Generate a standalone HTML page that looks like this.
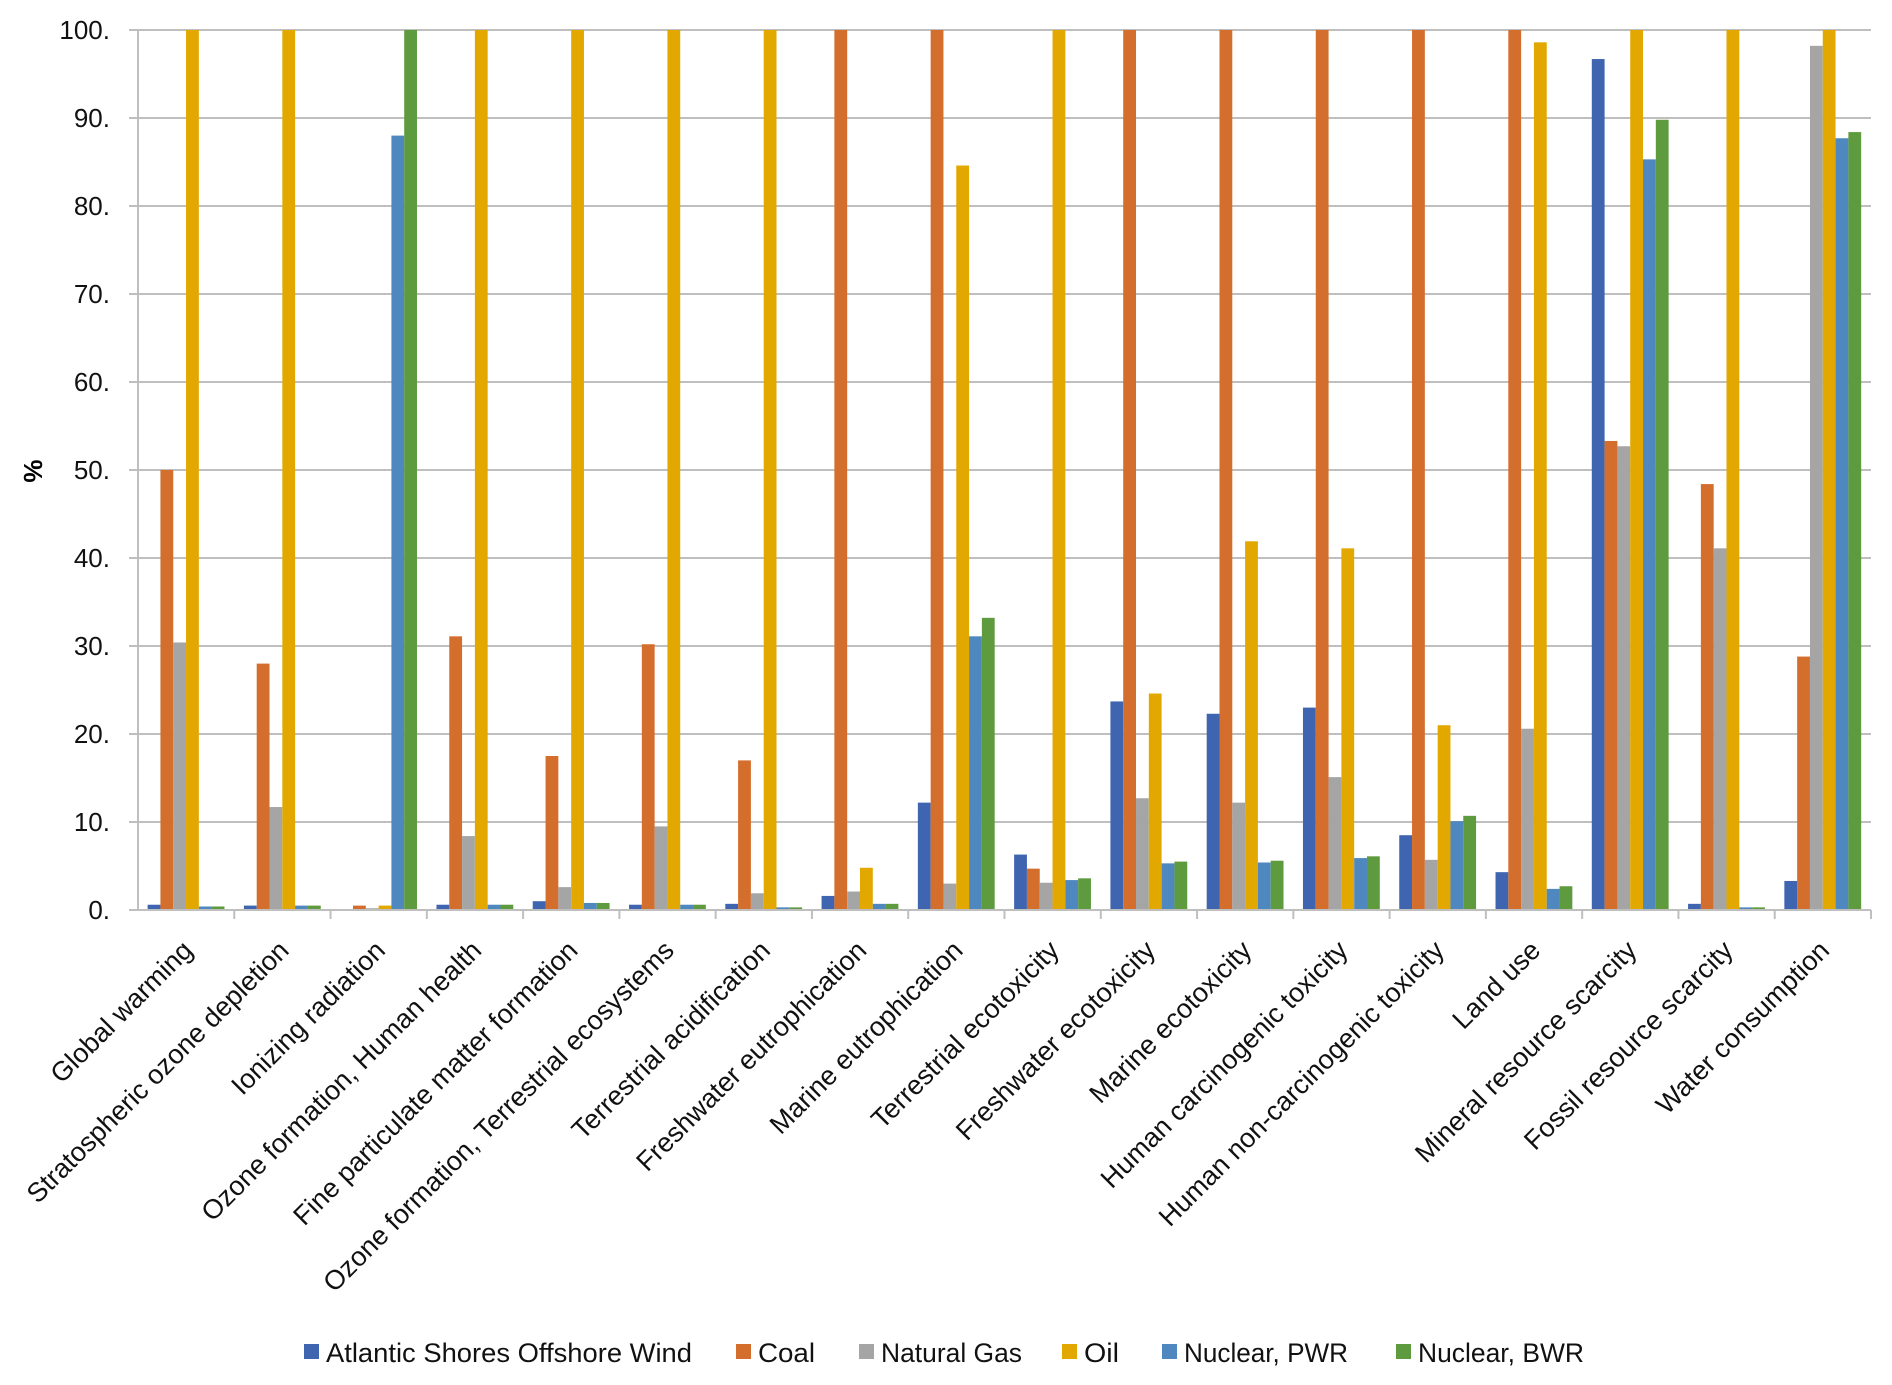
<!DOCTYPE html>
<html><head><meta charset="utf-8"><style>
html,body{margin:0;padding:0;background:#fff;}
svg{display:block;font-family:"Liberation Sans",sans-serif;}
</style></head><body>
<svg id="chart" width="1892" height="1385" viewBox="0 0 1892 1385">
<g id="grid"></g>
<g id="bars"></g>
<g id="axes"></g>
<text x="33" y="471" transform="rotate(-90 33 471)" text-anchor="middle" dominant-baseline="central" font-size="26" font-weight="bold" fill="#000">%</text>
<g id="legend"></g>
</svg>
<script>
const categories = ["Global warming","Stratospheric ozone depletion","Ionizing radiation","Ozone formation, Human health","Fine particulate matter formation","Ozone formation, Terrestrial ecosystems","Terrestrial acidification","Freshwater eutrophication","Marine eutrophication","Terrestrial ecotoxicity","Freshwater ecotoxicity","Marine ecotoxicity","Human carcinogenic toxicity","Human non-carcinogenic toxicity","Land use","Mineral resource scarcity","Fossil resource scarcity","Water consumption"];
const seriesNames = ["Atlantic Shores Offshore Wind","Coal","Natural Gas","Oil","Nuclear, PWR","Nuclear, BWR"];
const wind = [0.6,0.5,0.1,0.6,1.0,0.6,0.7,1.6,12.2,6.3,23.7,22.3,23.0,8.5,4.3,96.7,0.7,3.3];
const coal = [50,28,0.5,31.1,17.5,30.2,17,100,100,4.7,100,100,100,100,100,53.3,48.4,28.8];
const gas = [30.4,11.7,0.2,8.4,2.6,9.5,1.9,2.1,3.0,3.1,12.7,12.2,15.1,5.7,20.6,52.7,41.1,98.2];
const oil = [100,100,0.5,100,100,100,100,4.8,84.6,100,24.6,41.9,41.1,21.0,98.6,100,100,100];
const pwr = [0.4,0.5,88,0.6,0.8,0.6,0.3,0.7,31.1,3.4,5.3,5.4,5.9,10.1,2.4,85.3,0.3,87.7];
const bwr = [0.4,0.5,100,0.6,0.8,0.6,0.3,0.7,33.2,3.6,5.5,5.6,6.1,10.7,2.7,89.8,0.3,88.4];
const yTicks = [0,10,20,30,40,50,60,70,80,90,100];
const yTickLabels = ["0.","10.","20.","30.","40.","50.","60.","70.","80.","90.","100."];

const colors = ["#3f65b1","#d46e2d","#a5a5a5","#e3a800","#4f88bf","#5e9a3e"];
const series = [wind,coal,gas,oil,pwr,bwr];
const NS="http://www.w3.org/2000/svg";
const L=138, R=1871, T=30, B=910;
const catW=(R-L)/categories.length;
const yS=v=>B-(v/100)*(B-T);
const xC=i=>L+catW*(i+0.5);
function mk(tag,attrs,parent){const e=document.createElementNS(NS,tag);for(const k in attrs)e.setAttribute(k,attrs[k]);parent.appendChild(e);return e;}
const grid=document.getElementById('grid'),bars=document.getElementById('bars'),axes=document.getElementById('axes'),legend=document.getElementById('legend');
yTicks.forEach((t,i)=>{
  const ln=mk('line',{x1:L-9,x2:R,y1:yS(t),y2:yS(t),stroke:'#bfbfbf','stroke-width':2},grid);
  
  
  const tx=mk('text',{x:110,y:yS(t)+9,'text-anchor':'end','font-size':26,fill:'#111'},axes);
  tx.textContent=yTickLabels[i];
  
  
});
mk('line',{x1:L,x2:L,y1:T,y2:B,stroke:'#bfbfbf','stroke-width':2},axes);
const bw=catW*0.133, groupStart=catW*0.1;
categories.forEach((c,i)=>{
  series.forEach((s,j)=>{
    const x=L+catW*i+groupStart+j*bw;
    const r=mk('rect',{x:x,y:yS(s[i]),width:bw,height:B-yS(s[i]),fill:colors[j]},bars);
    
    
  });
  mk('line',{x1:L+catW*(i+1),x2:L+catW*(i+1),y1:B,y2:B+9,stroke:'#bfbfbf','stroke-width':2},axes);
  const cx=xC(i)+8, cy=B+42;
  const lb=mk('text',{x:cx,y:cy,'text-anchor':'end','font-size':27,fill:'#111',transform:`rotate(-45 ${cx} ${cy})`},axes);
  lb.textContent=c;
  
  
});
mk('line',{x1:L,x2:R,y1:B,y2:B,stroke:'#bfbfbf','stroke-width':2},axes);
const legX=[304,736,859,1062,1162,1396];
const legW=[366,57,141,35,164,166];
seriesNames.forEach((n,j)=>{
  const g=mk('g',{},legend);
  
  
  mk('rect',{x:legX[j],y:1344,width:15,height:15,fill:colors[j]},g);
  const t=mk('text',{x:legX[j]+22,y:1362,'font-size':27,fill:'#111',textLength:legW[j],lengthAdjust:'spacingAndGlyphs'},g);
  t.textContent=n;
});
</script>
</body></html>
